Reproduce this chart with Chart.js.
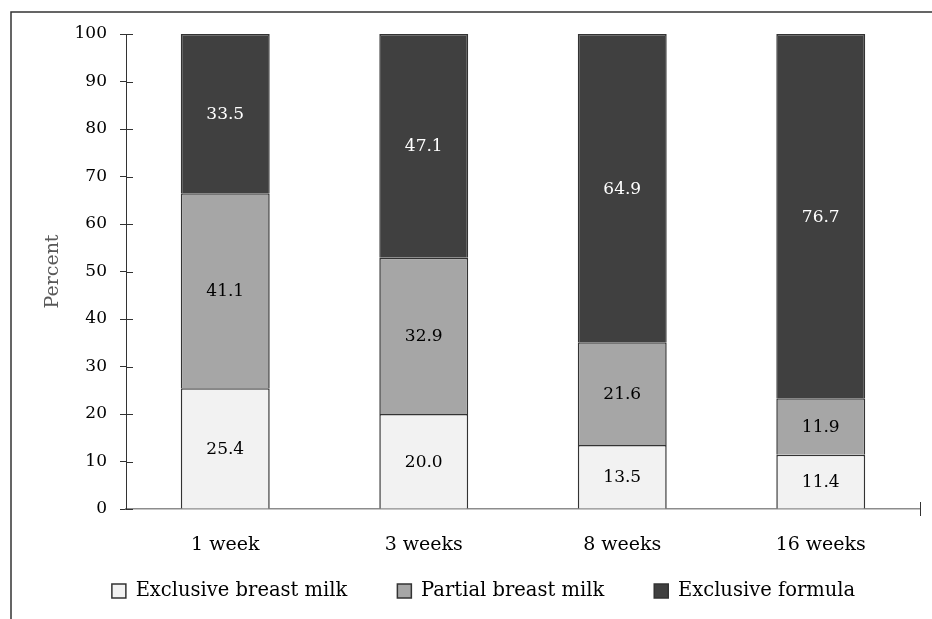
<!DOCTYPE html>
<html>
<head>
<meta charset="utf-8">
<script src="https://cdn.jsdelivr.net/npm/chart.js@4"></script>
<style>
  html, body { margin: 0; padding: 0; background: #fff; }
  #chartDiv { width: 932px; height: 619px; }
</style>
</head>
<body>
<div id="chartDiv"><canvas id="myChart" width="932" height="619"></canvas></div>
<script>
const weeks = ['1 week', '3 weeks', '8 weeks', '16 weeks'];
const exclusiveBreast = [25.4, 20.0, 13.5, 11.4];
const partialBreast = [41.1, 32.9, 21.6, 11.9];
const exclusiveFormula = [33.5, 47.1, 64.9, 76.7];
const yTicks = [0, 10, 20, 30, 40, 50, 60, 70, 80, 90, 100];

const serif = '"DejaVu Serif", "Liberation Serif", serif';

// frame, inner tick halves, end tick on x axis and the numbers in the bars
const extras = {
    id: 'extras',
    afterInit(chart) {
        // keep the legend strip short, its items sit near the axis labels
        const fit = chart.legend.fit;
        chart.legend.fit = function() {
            fit.call(this);
            this.height = 60;
        };
    },
    afterLayout(chart) {
        chart.legend.top = 591 - 50 - 9.75;
    },
    beforeDraw(chart) {
        const ctx = chart.ctx;
        ctx.save();
        ctx.fillStyle = '#fff';
        ctx.fillRect(0, 0, chart.width, chart.height);
        ctx.strokeStyle = '#333';
        ctx.lineWidth = 1.5;
        ctx.beginPath();
        ctx.moveTo(11, chart.height);
        ctx.lineTo(11, 12);
        ctx.lineTo(chart.width, 12);
        ctx.stroke();
        ctx.restore();
    },
    afterDraw(chart) {
        const ctx = chart.ctx;
        const y = chart.scales.y;
        const x = chart.scales.x;
        ctx.save();
        ctx.strokeStyle = '#333';
        ctx.lineWidth = 1;
        ctx.beginPath();
        yTicks.forEach(v => {
            const py = Math.round(y.getPixelForValue(v)) + 0.5;
            ctx.moveTo(x.left, py);
            ctx.lineTo(x.left + 7, py);
        });
        const rx = Math.round(x.right) + 0.5;
        ctx.moveTo(rx, y.bottom - 7);
        ctx.lineTo(rx, y.bottom + 7);
        ctx.stroke();

        ctx.font = '17px ' + serif;
        ctx.textAlign = 'center';
        ctx.textBaseline = 'middle';
        chart.data.datasets.forEach((ds, i) => {
            const meta = chart.getDatasetMeta(i);
            meta.data.forEach((bar, j) => {
                ctx.fillStyle = i === 2 ? '#fff' : '#000';
                ctx.fillText(ds.data[j].toFixed(1), bar.x, (bar.y + bar.base) / 2 + 1);
            });
        });
        ctx.restore();
    }
};

const ctx = document.getElementById('myChart').getContext('2d');
const myChart = new Chart(ctx, {
    type: 'bar',
    data: {
        labels: weeks,
        datasets: [{
            label: 'Exclusive breast milk',
            data: exclusiveBreast,
            backgroundColor: '#f2f2f2',
            borderColor: '#333',
            borderWidth: 1.5
        }, {
            label: 'Partial breast milk',
            data: partialBreast,
            backgroundColor: '#a6a6a6',
            borderColor: '#333',
            borderWidth: 1.5
        }, {
            label: 'Exclusive formula',
            data: exclusiveFormula,
            backgroundColor: '#404040',
            borderColor: '#333',
            borderWidth: 1.5
        }]
    },
    options: {
        responsive: false,
        animation: false,
        layout: { padding: { left: 47, right: 12, top: 34, bottom: 0 } },
        datasets: { bar: { categoryPercentage: 1, barPercentage: 0.448 } },
        scales: {
            x: {
                stacked: true,
                grid: { display: false, drawTicks: false },
                border: { display: true, color: '#8c8c8c', width: 1.5 },
                ticks: { padding: 25, color: '#000', font: { family: serif, size: 19 } },
                afterFit(scale) { scale.height = 50; }
            },
            y: {
                stacked: true,
                min: 0,
                max: 100,
                grid: { drawOnChartArea: false, tickLength: 6, color: '#333' },
                border: { display: true, color: '#333', width: 1 },
                ticks: {
                    stepSize: 10,
                    padding: 13,
                    color: '#000',
                    font: { family: serif, size: 17 },
                    callback: (v, i) => yTicks[i]
                },
                title: {
                    display: true,
                    text: 'Percent',
                    color: '#595959',
                    padding: { top: -5, bottom: 0 },
                    font: { family: serif, size: 19 }
                },
                afterFit(scale) { scale.width = 79; }
            }
        },
        plugins: {
            tooltip: { enabled: false },
            legend: {
                position: 'bottom',
                labels: {
                    boxWidth: 14,
                    boxHeight: 14,
                    padding: 50,
                    color: '#000',
                    font: { family: serif, size: 19.5 }
                }
            }
        }
    },
    plugins: [extras]
});
</script>
</body>
</html>
